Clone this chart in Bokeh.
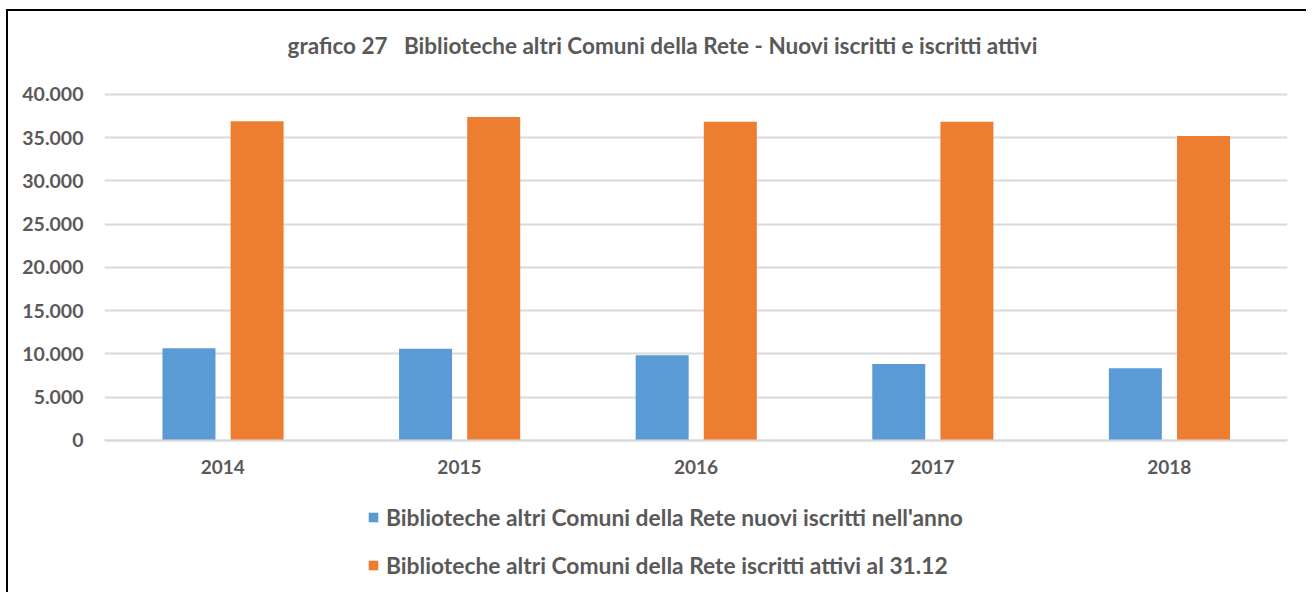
from bokeh.plotting import figure
from bokeh.models import (FactorRange, Range1d, FixedTicker, CustomJSTickFormatter, Legend,
                          LegendItem, ColumnDataSource, Label)
from bokeh.transform import dodge
from bokeh.embed import file_html
from bokeh.resources import INLINE

years = ["2014", "2015", "2016", "2017", "2018"]
nuovi = [10650, 10600, 9850, 8850, 8350]
attivi = [36900, 37400, 36850, 36850, 35200]
y_ticks = [0, 5000, 10000, 15000, 20000, 25000, 30000, 35000, 40000]
title_text = "grafico 27\u00a0\u00a0 Biblioteche altri Comuni della Rete - Nuovi iscritti e iscritti attivi"
label_nuovi = "Biblioteche altri Comuni della Rete nuovi iscritti nell'anno"
label_attivi = "Biblioteche altri Comuni della Rete iscritti attivi al 31.12"

BLUE = "#5B9BD5"
ORANGE = "#ED7D31"
TEXT = "#595959"
GRID = "#D9D9D9"
FONT = "Lato"

src = ColumnDataSource(dict(year=years, nuovi=nuovi, attivi=attivi))

# the frame spans the whole chart area (title above 40.000, legend below 0);
# ticks/grid only cover 0..40.000 and the x axis is pinned at 0
p = figure(
    x_range=FactorRange(*years),
    y_range=Range1d(-17340, 49590),
    width=1300, height=583,
    output_backend="svg", toolbar_location=None,
    min_border_left=96, min_border_right=21,
    min_border_top=0, min_border_bottom=4,
)
p.styles = {"border-left": "2px solid #000", "border-top": "2px solid #000",
            "margin-left": "6px", "margin-top": "9px"}
p.outline_line_color = None

r1 = p.vbar(x=dodge("year", -0.143, range=p.x_range), top="nuovi", width=0.224,
            source=src, fill_color=BLUE, line_color=None)
r2 = p.vbar(x=dodge("year", 0.145, range=p.x_range), top="attivi", width=0.224,
            source=src, fill_color=ORANGE, line_color=None)

title = Label(x=558, y=545, x_units="screen", y_units="screen",
              text=title_text, text_align="center", text_baseline="middle",
              text_font=FONT, text_font_size="22.5px", text_font_style="bold",
              text_color=TEXT)
p.add_layout(title)

p.yaxis.ticker = FixedTicker(ticks=y_ticks)
p.yaxis.formatter = CustomJSTickFormatter(
    code="return tick.toFixed(0).replace(/\\B(?=(\\d{3})+(?!\\d))/g, '.');")
p.yaxis.axis_line_color = None
p.yaxis.major_tick_line_color = None
p.yaxis.minor_tick_line_color = None
p.yaxis.major_label_standoff = 15
p.yaxis.major_label_text_font = FONT
p.yaxis.major_label_text_font_size = "19.5px"
p.yaxis.major_label_text_font_style = "bold"
p.yaxis.major_label_text_color = TEXT

p.xaxis.fixed_location = 0
p.xaxis.axis_line_color = GRID
p.xaxis.axis_line_width = 2
p.xaxis.major_tick_line_color = None
p.xaxis.minor_tick_line_color = None
p.xaxis.major_label_standoff = 14
p.xaxis.major_label_text_font = FONT
p.xaxis.major_label_text_font_size = "19px"
p.xaxis.major_label_text_font_style = "bold"
p.xaxis.major_label_text_color = TEXT

p.xgrid.grid_line_color = None
p.ygrid.grid_line_color = GRID
p.ygrid.grid_line_width = 2

legend = Legend(
    items=[LegendItem(label=label_nuovi, renderers=[r1]),
           LegendItem(label=label_attivi, renderers=[r2])],
    location=(263, 11),
    orientation="vertical",
    border_line_color=None,
    background_fill_alpha=0,
    padding=0, margin=0,
    glyph_width=12, glyph_height=12,
    label_standoff=7,
    spacing=20,
    label_text_font=FONT,
    label_text_font_size="22.8px",
    label_text_font_style="bold",
    label_text_color=TEXT,
)
p.add_layout(legend, "center")

open("out.html", "w").write(file_html(p, INLINE))
